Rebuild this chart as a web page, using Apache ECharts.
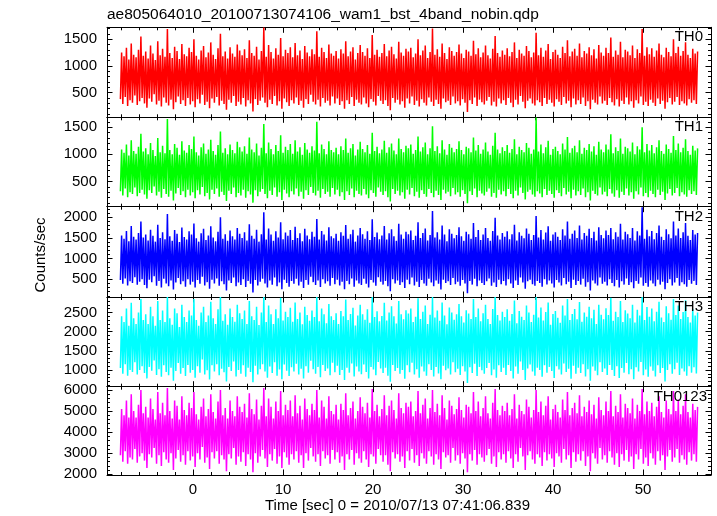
<!DOCTYPE html>
<html><head><meta charset="utf-8">
<script src="https://cdn.jsdelivr.net/npm/echarts@6/dist/echarts.min.js"></script>
<style>html,body{margin:0;padding:0;background:#fff}#c{width:717px;height:516px}</style>
</head><body><div id="c"></div>
<script>
// ---- data ----
const chartTitle = 'ae805064010_20100713074106_wam1_bst_4band_nobin.qdp';
const xTitle = 'Time [sec] 0 = 2010/07/13 07:41:06.839';
const yTitle = 'Counts/sec';
const panelNames = ['TH0', 'TH1', 'TH2', 'TH3', 'TH0123'];
const timeStart = -8.07;
const timeStep = 0.1339;
const xMin = -9.56, xMax = 57.56, xMajor = 10;
const yMins = [40, 35, 70, 563, 1967];
const yMaxs = [1722, 1683, 2256, 2903, 6157];
const yMajors = [500, 500, 500, 500, 1000];

const th0 = [
380,1250,290,1180,420,1340,250,1120,360,1420,310,1210,450,1160,270,1300,340,1550,400,1190,
300,1270,220,1140,390,1380,330,1230,470,1110,280,1460,350,1200,240,1320,410,1170,310,1690,
260,1240,370,1150,190,1360,320,1280,430,1130,290,1410,360,1220,250,1180,400,1340,280,1260,
340,1500,230,1190,380,1120,300,1290,460,1370,270,1160,330,1250,210,1440,390,1210,310,1130,
420,1330,260,1600,350,1180,290,1270,180,1140,370,1350,310,1230,440,1170,250,1400,330,1290,
280,1200,400,1310,240,1150,360,1480,300,1240,150,1190,380,1360,270,1120,350,1280,410,1720,
310,1170,230,1390,370,1260,290,1140,440,1330,260,1210,340,1520,200,1180,390,1300,320,1240,
250,1350,360,1160,300,1430,410,1200,270,1290,350,1130,220,1370,380,1250,290,1180,460,1310,
330,1220,280,1650,370,1170,240,1340,400,1260,310,1150,350,1400,260,1230,430,1190,300,1280,
390,1140,270,1310,340,1230,200,1460,360,1180,290,1270,420,1350,250,1120,370,1240,310,1390,
280,1260,410,1190,300,1330,230,1150,380,1580,330,1210,260,1300,440,1170,350,1240,290,1410,
360,1180,250,1290,170,1360,400,1220,310,1140,370,1450,280,1250,340,1190,220,1320,390,1270,
300,1340,430,1160,270,1230,350,1500,240,1200,380,1290,310,1380,260,1150,410,1260,330,1700,
250,1210,370,1310,290,1170,200,1420,390,1240,320,1130,350,1350,270,1280,430,1190,300,1260,
340,1400,260,1230,380,1150,310,1300,140,1270,360,1190,290,1470,410,1220,250,1330,370,1160,
320,1250,280,1380,350,1200,420,1140,260,1320,330,1560,240,1240,390,1170,300,1290,360,1210,
270,1330,400,1180,310,1260,230,1440,370,1150,280,1300,440,1230,330,1190,210,1370,350,1280,
390,1160,300,1250,260,1620,360,1200,320,1340,250,1170,400,1290,290,1410,370,1130,310,1260,
240,1300,380,1210,330,1150,270,1360,420,1240,300,1480,350,1180,230,1270,390,1320,280,1190,
360,1420,290,1160,410,1280,250,1230,340,1350,190,1200,370,1310,310,1140,280,1390,430,1250,
300,1190,350,1340,270,1240,400,1530,320,1170,260,1290,380,1210,240,1450,350,1160,290,1300,
410,1270,280,1200,340,1380,220,1150,360,1310,300,1240,430,1690,270,1190,330,1350,250,1220,
370,1330,310,1170,250,1290,390,1420,290,1210,350,1160,200,1340,320,1260,400,1180,280,1500,
330,1240,420,1360,270,1190,340,1280,300,1440,260,1210,380,1150,310,1320,360,1230,290,1270
];
const th1 = [
320,1090,240,1030,370,1180,210,980,300,1260,270,1060,390,1010,230,1140,290,1380,350,1050,
260,1110,180,1000,340,1210,290,1080,410,970,240,1300,310,1040,200,1160,360,1020,270,1650,
220,1080,330,1000,150,1190,280,1120,380,990,250,1240,320,1070,210,1030,350,1170,240,1100,
300,1330,190,1040,340,980,260,1130,400,1200,230,1010,290,1090,170,1270,350,1060,270,990,
370,1170,220,1420,310,1030,250,1110,140,1000,330,1180,270,1080,390,1020,210,1230,290,1130,
240,1050,350,1150,200,1010,320,1310,260,1090,110,1040,340,1200,230,980,310,1120,360,1560,
270,1020,190,1220,330,1100,250,1000,390,1170,220,1060,300,1350,160,1030,350,1140,280,1080,
210,1190,320,1010,260,1260,370,1050,230,1130,310,990,180,1210,340,1090,250,1030,400,1150,
290,1070,240,1600,330,1020,200,1180,360,1100,270,1000,310,1240,220,1080,380,1040,260,1120,
350,1000,230,1150,300,1080,160,1290,320,1030,250,1110,370,1190,210,980,330,1090,270,1230,
240,1100,360,1040,260,1170,190,1010,340,1400,290,1060,220,1140,390,1020,310,1090,250,1250,
320,1030,210,1130,130,1200,360,1070,270,1000,330,1290,240,1100,300,1040,180,1160,350,1110,
260,1180,380,1010,230,1080,310,1330,200,1050,340,1130,270,1220,220,1000,360,1110,290,1520,
210,1060,330,1150,250,1020,160,1260,350,1090,280,990,310,1190,230,1120,380,1040,260,1100,
300,1240,220,1080,340,1000,270,1140,100,1110,320,1040,250,1310,370,1070,210,1170,330,1010,
280,1090,240,1220,310,1050,370,990,220,1160,290,1400,200,1090,350,1020,260,1130,320,1060,
230,1170,360,1030,270,1100,190,1280,330,1000,240,1140,390,1080,290,1040,170,1210,310,1120,
350,1010,260,1090,220,1680,320,1050,280,1180,210,1020,360,1130,250,1250,330,990,270,1100,
200,1140,340,1060,290,1000,230,1200,380,1090,260,1320,310,1030,190,1110,350,1160,240,1040,
320,1260,250,1010,370,1120,210,1080,300,1190,150,1050,330,1150,270,990,240,1230,390,1090,
260,1040,310,1180,230,1090,360,1370,280,1020,220,1130,340,1060,200,1290,310,1010,250,1140,
370,1110,240,1050,300,1220,180,1000,320,1150,260,1090,390,1500,230,1040,290,1190,210,1070,
330,1170,270,1020,210,1130,350,1260,250,1060,310,1010,160,1180,280,1100,360,1030,240,1340,
290,1080,380,1200,230,1040,300,1120,260,1280,220,1060,340,990,270,1160,320,1070,250,1110
];
const th2 = [
480,1560,390,1480,520,1670,350,1420,450,1790,410,1530,550,1460,370,1620,440,1900,500,1510,
360,1580,280,1440,490,1700,430,1550,570,1410,340,1820,460,1500,300,1640,510,1470,400,2080,
330,1540,470,1430,250,1690,420,1600,530,1400,380,1750,450,1520,320,1460,500,1660,370,1580,
440,1850,300,1490,480,1410,390,1610,560,1720,350,1450,430,1560,270,1780,490,1510,400,1420,
520,1650,340,2000,450,1480,380,1590,230,1430,470,1680,410,1540,540,1460,330,1740,420,1600,
360,1500,500,1640,310,1440,460,1830,390,1550,180,1480,480,1700,350,1410,440,1590,510,2120,
400,1460,300,1730,470,1580,370,1430,540,1660,330,1510,420,1880,260,1470,490,1630,410,1550,
320,1690,460,1450,390,1770,510,1500,350,1610,440,1420,290,1720,480,1560,370,1470,560,1650,
430,1530,360,1960,470,1460,310,1670,500,1580,400,1440,450,1760,340,1540,530,1490,380,1600,
490,1430,350,1640,440,1550,260,1810,460,1480,380,1590,520,1700,320,1410,470,1560,400,1740,
360,1590,510,1480,390,1660,300,1450,480,1950,420,1520,340,1630,550,1470,440,1560,370,1790,
460,1460,330,1610,210,1710,500,1540,400,1430,470,1840,360,1580,430,1480,290,1650,490,1590,
380,1680,540,1450,350,1550,440,1880,310,1500,480,1620,400,1730,340,1440,510,1570,420,2150,
330,1510,470,1640,390,1460,250,1800,490,1580,410,1420,450,1710,360,1600,530,1490,380,1570,
440,1760,340,1540,480,1430,400,1650,160,1590,460,1480,370,1860,510,1520,330,1690,470,1450,
410,1580,360,1740,450,1500,520,1430,340,1670,420,1990,310,1560,490,1460,380,1620,460,1530,
350,1660,500,1470,400,1590,290,1820,470,1440,360,1640,540,1550,420,1490,270,1730,450,1600,
490,1450,380,1570,340,2030,460,1510,410,1690,320,1460,500,1630,370,1780,470,1430,400,1580,
300,1640,480,1530,420,1450,350,1710,530,1560,380,1900,440,1480,290,1600,490,1680,360,1500,
460,1800,370,1460,510,1620,320,1550,430,1720,230,1500,470,1650,400,1440,350,1760,540,1570,
390,1490,440,1680,350,1570,500,1740,410,1470,330,1640,480,1530,300,1840,450,1460,370,1650,
520,1590,360,1500,430,1740,280,1440,460,1660,390,1560,540,2240,340,1480,410,1700,320,1540,
470,1670,400,1470,330,1620,490,1800,370,1530,440,1450,260,1710,410,1590,500,1490,350,1900,
420,1560,530,1730,340,1500,430,1640,380,1860,320,1550,480,1450,390,1690,460,1580,360,1620
];
const th3 = [
1050,2400,900,2250,1150,2600,850,2150,1000,2750,950,2350,1200,2200,880,2500,1000,2850,1100,2300,
920,2450,780,2200,1080,2650,980,2400,1250,2150,870,2800,1020,2300,820,2550,1120,2250,950,2900,
860,2350,1060,2180,720,2600,970,2480,1180,2120,900,2700,1050,2380,840,2250,1130,2550,930,2420,
1000,2850,800,2300,1100,2150,930,2500,1270,2650,880,2250,990,2420,750,2780,1120,2350,960,2200,
1150,2580,860,2900,1030,2280,940,2450,700,2180,1080,2600,970,2380,1220,2260,830,2700,1000,2480,
900,2330,1120,2550,820,2200,1060,2800,950,2400,680,2300,1110,2650,880,2170,1020,2500,1150,2900,
960,2250,800,2680,1090,2450,920,2200,1200,2580,850,2350,1010,2880,760,2290,1140,2520,980,2380,
840,2620,1070,2260,960,2760,1160,2330,880,2500,1030,2190,780,2650,1100,2430,930,2280,1240,2550,
1020,2380,900,2900,1080,2270,810,2600,1130,2450,970,2220,1040,2720,860,2400,1190,2300,940,2480,
1110,2200,870,2540,1000,2400,740,2840,1060,2300,930,2460,1170,2620,830,2160,1090,2420,960,2700,
890,2450,1140,2310,950,2580,780,2230,1080,2900,1010,2380,860,2530,1210,2270,1040,2410,920,2750,
1060,2290,850,2500,690,2660,1130,2400,970,2210,1050,2800,900,2450,1000,2320,770,2560,1120,2470,
940,2600,1190,2250,880,2390,1020,2870,800,2330,1090,2520,960,2680,850,2200,1150,2440,1000,2900,
830,2370,1080,2550,910,2280,760,2760,1110,2420,990,2190,1040,2630,880,2500,1200,2310,940,2450,
1030,2720,870,2400,1100,2240,960,2560,660,2470,1070,2330,920,2850,1160,2380,840,2600,1080,2270,
990,2480,900,2700,1050,2330,1180,2200,860,2590,1010,2900,800,2430,1120,2290,950,2520,1060,2380,
870,2580,1130,2280,970,2460,780,2810,1090,2220,900,2540,1220,2390,1000,2300,740,2680,1040,2500,
1140,2250,960,2440,850,2900,1060,2370,1000,2630,820,2290,1120,2510,930,2760,1080,2180,970,2460,
790,2540,1100,2360,1010,2230,880,2680,1170,2420,950,2850,1030,2300,770,2460,1110,2590,900,2320,
1060,2770,920,2260,1150,2500,830,2390,1020,2650,720,2350,1090,2570,980,2200,860,2700,1200,2440,
950,2320,1040,2610,870,2430,1130,2880,1000,2280,840,2520,1100,2380,790,2800,1050,2250,930,2560,
1180,2470,890,2350,1020,2700,760,2240,1070,2570,960,2420,1210,2900,860,2300,1010,2640,820,2390,
1090,2600,980,2270,830,2520,1120,2780,920,2370,1050,2250,700,2660,1000,2480,1150,2310,900,2850,
1020,2430,1190,2680,870,2330,1040,2510,960,2820,850,2380,1100,2240,930,2590,1070,2420,910,2500
];
const th0123 = [
2900,5100,2600,4800,3100,5500,2500,4700,2800,5800,2700,5000,3200,4700,2550,5300,2850,6000,3000,4900,
2650,5200,2300,4700,2950,5600,2800,5100,3250,4600,2500,5900,2900,4900,2400,5400,3050,4800,2700,6100,
2550,5000,3000,4650,2200,5500,2750,5250,3150,4600,2600,5700,2900,5050,2450,4800,3100,5400,2650,5150,
2850,5900,2350,4850,3000,4600,2700,5200,3300,5600,2550,4750,2800,5100,2250,5800,3050,4950,2750,4650,
3100,5450,2500,6000,2900,4800,2700,5150,2150,4650,2950,5500,2750,5000,3250,4750,2450,5700,2850,5200,
2600,4950,3050,5350,2400,4700,2950,5850,2700,5100,2100,4850,3000,5550,2550,4600,2850,5250,3150,6100,
2750,4750,2350,5600,2950,5200,2650,4650,3200,5450,2500,5000,2850,5950,2300,4800,3050,5300,2800,5050,
2450,5500,2950,4750,2700,5750,3100,4900,2550,5250,2900,4600,2300,5600,3000,5100,2650,4800,3250,5350,
2850,5050,2600,6000,2950,4700,2400,5500,3100,5200,2750,4650,2900,5700,2500,5000,3150,4850,2700,5300,
3050,4600,2550,5350,2850,5050,2200,5850,2950,4800,2700,5150,3150,5450,2450,4650,3000,5000,2750,5650,
2550,5200,3100,4900,2700,5400,2350,4700,2950,6050,2850,5000,2500,5300,3200,4750,2900,5100,2600,5750,
2900,4800,2450,5250,2150,5500,3050,5050,2750,4650,2950,5850,2600,5150,2850,4900,2300,5400,3100,5200,
2650,5450,3200,4750,2550,5000,2900,5950,2400,4900,3000,5300,2750,5600,2500,4650,3100,5150,2850,6000,
2450,4950,2950,5350,2700,4800,2250,5750,3050,5150,2800,4600,2900,5500,2550,5250,3250,4850,2650,5100,
2900,5650,2500,5050,3000,4700,2750,5300,2100,5200,2950,4900,2650,5900,3150,5000,2450,5450,2950,4750,
2800,5150,2600,5700,2900,4900,3200,4650,2500,5400,2850,6050,2350,5050,3050,4800,2700,5250,2950,5000,
2550,5400,3100,4800,2750,5100,2300,5800,2950,4650,2600,5300,3250,5000,2850,4850,2200,5550,2900,5200,
3100,4700,2700,5050,2500,6000,2950,4950,2800,5450,2400,4800,3050,5250,2650,5700,2950,4600,2750,5100,
2350,5300,3000,4950,2850,4700,2550,5550,3200,5050,2700,5900,2900,4800,2300,5150,3050,5400,2600,4900,
2950,5750,2650,4750,3100,5200,2400,4950,2850,5500,2150,4850,3000,5300,2750,4650,2500,5650,3250,5050,
2700,4800,2900,5450,2550,5000,3100,5950,2800,4750,2450,5250,3000,4950,2350,5800,2950,4700,2650,5350,
3150,5150,2600,4900,2850,5600,2250,4650,2950,5300,2700,5000,3200,6050,2500,4850,2800,5450,2400,5000,
3000,5400,2750,4750,2450,5200,3100,5700,2650,4950,2900,4700,2200,5500,2850,5100,3150,4850,2600,5950,
2800,5000,3200,5550,2550,4850,2900,5250,2700,5800,2450,4950,3050,4700,2650,5350,2950,5050,2600,5200
];
const panelValues = [th0, th1, th2, th3, th0123];
const panelColors = ['#ff0000', '#00ff00', '#0000ff', '#00ffff', '#ff00ff'];

// ---- layout ----
const FONT = "'Liberation Sans', Arial, Helvetica, sans-serif";
const bounds = [27.3, 117.3, 206.7, 297, 386.7, 475];
const plotLeft = 107, plotWidth = 604;
const labelRight = [703, 703, 703, 703, 707];

const chart = echarts.init(document.getElementById('c'), null, {renderer: 'canvas'});
const grids = [], xAxes = [], yAxes = [], series = [], graphics = [];

function isMult(v, m) { const r = Math.abs(v / m - Math.round(v / m)); return r < 1e-6; }

panelValues.forEach((vals, i) => {
  grids.push({left: plotLeft, width: plotWidth, top: bounds[i], height: bounds[i + 1] - bounds[i], show: false});
  const last = i === panelValues.length - 1;
  const xBase = {
    type: 'value', gridIndex: i, min: xMin, max: xMax,
    minInterval: xMajor, maxInterval: xMajor, splitNumber: 6,
    axisLine: {show: true, onZero: false, lineStyle: {color: '#000', width: 1}},
    axisTick: {show: true, inside: true, length: 5.5, lineStyle: {color: '#000', width: 1}},
    minorTick: {show: true, splitNumber: 5, length: 3, lineStyle: {color: '#000', width: 1}},
    splitLine: {show: false}, minorSplitLine: {show: false}
  };
  xAxes.push(Object.assign({}, xBase, {
    position: 'bottom',
    axisLabel: {show: last, color: '#000', fontSize: 15, fontFamily: FONT, margin: 7,
      formatter: v => isMult(v, xMajor) ? String(Math.round(v)) : ''}
  }));
  xAxes.push(Object.assign({}, xBase, {position: 'top', axisLabel: {show: false}}));

  const yMajor = yMajors[i];
  const yBase = {
    type: 'value', gridIndex: i, min: yMins[i], max: yMaxs[i],
    minInterval: yMajor, maxInterval: yMajor, splitNumber: 4, scale: true,
    axisLine: {show: true, onZero: false, lineStyle: {color: '#000', width: 1}},
    axisTick: {show: true, inside: true, length: 5.5, lineStyle: {color: '#000', width: 1}},
    minorTick: {show: true, splitNumber: 5, length: 3, lineStyle: {color: '#000', width: 1}},
    splitLine: {show: false}, minorSplitLine: {show: false}
  };
  yAxes.push(Object.assign({}, yBase, {
    position: 'left',
    axisLabel: {show: true, color: '#000', fontSize: 15, fontFamily: FONT, margin: 10,
      formatter: v => isMult(v, yMajor) ? String(Math.round(v)) : ''}
  }));
  yAxes.push(Object.assign({}, yBase, {position: 'right', axisLabel: {show: false}}));

  series.push({
    type: 'line', xAxisIndex: 2 * i, yAxisIndex: 2 * i,
    data: vals.map((v, k) => [timeStart + k * timeStep, v]),
    showSymbol: false, symbol: 'none', clip: true, silent: true, animation: false,
    lineStyle: {color: panelColors[i], width: 1.5}
  });

  graphics.push({
    type: 'text', x: labelRight[i], y: bounds[i] + 10, z: 100,
    style: {text: panelNames[i], fill: '#000', fontSize: 15, fontFamily: FONT, align: 'right', verticalAlign: 'middle'}
  });
});

graphics.push({type: 'text', x: 107, y: 15,
  style: {text: chartTitle, fill: '#000', fontSize: 15.5, fontFamily: FONT, align: 'left', verticalAlign: 'middle'}});
graphics.push({type: 'text', x: 397.5, y: 506,
  style: {text: xTitle, fill: '#000', fontSize: 15, fontFamily: FONT, align: 'center', verticalAlign: 'middle'}});
graphics.push({type: 'text', x: 41, y: 255, rotation: Math.PI / 2,
  style: {text: yTitle, fill: '#000', fontSize: 15, fontFamily: FONT, align: 'center', verticalAlign: 'middle'}});

chart.setOption({
  animation: false,
  backgroundColor: '#fff',
  grid: grids, xAxis: xAxes, yAxis: yAxes, series: series,
  graphic: graphics
});
</script></body></html>
